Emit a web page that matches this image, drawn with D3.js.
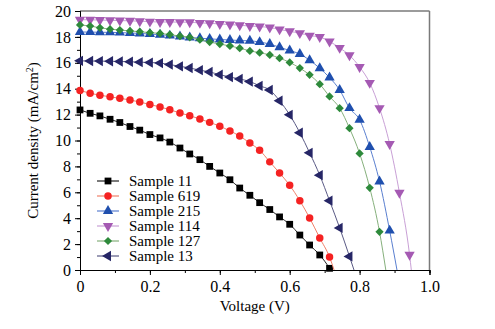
<!DOCTYPE html>
<html>
<head>
<meta charset="utf-8">
<script src="https://cdn.jsdelivr.net/npm/d3@7"></script>
<style>
  body { margin: 0; background: #fff; }
  text { font-family: "Liberation Serif", "Times New Roman", serif; fill: #000; }
</style>
</head>
<body>
<div id="chart"></div>
<script>
// Measured voltages (V), one marker every ~0.0286 V
const voltage = [0, 0.029, 0.057, 0.086, 0.114, 0.143, 0.171, 0.2, 0.229, 0.257,
  0.286, 0.314, 0.343, 0.371, 0.4, 0.429, 0.457, 0.486, 0.514, 0.543,
  0.571, 0.6, 0.629, 0.657, 0.686, 0.714, 0.743, 0.771, 0.8, 0.829,
  0.857, 0.886, 0.914, 0.943];

const sampleNames = ['Sample 11', 'Sample 619', 'Sample 215', 'Sample 114', 'Sample 127', 'Sample 13'];

// Current density (mA/cm2)
const current11 = [12.36, 12.1, 11.9, 11.64, 11.39, 11.08, 10.8, 10.46, 10.2, 9.88,
  9.42, 8.96, 8.52, 8.0, 7.49, 6.97, 6.33, 5.77, 5.2, 4.67,
  4.1, 3.53, 2.7, 1.93, 1.16, 0.13];
const current619 = [13.87, 13.65, 13.5, 13.37, 13.26, 13.13, 12.97, 12.78, 12.59, 12.38,
  12.12, 11.92, 11.66, 11.4, 11.1, 10.74, 10.34, 9.8, 9.25, 8.35,
  7.49, 6.54, 5.35, 4.02, 2.47, 1.0];
const current215 = [18.38, 18.37, 18.36, 18.35, 18.33, 18.3, 18.27, 18.22, 18.17, 18.1,
  18.03, 17.96, 17.9, 17.85, 17.8, 17.76, 17.72, 17.7, 17.6, 17.45,
  17.2, 16.95, 16.68, 16.2, 15.58, 14.86, 13.9, 12.5, 11.6, 9.5,
  6.84, 3.04];
const current114 = [19.33, 19.32, 19.3, 19.28, 19.26, 19.24, 19.21, 19.18, 19.15, 19.15,
  19.14, 19.13, 19.08, 19.05, 19.0, 18.95, 18.9, 18.84, 18.8, 18.72,
  18.58, 18.43, 18.29, 18.1, 17.99, 17.65, 17.15, 16.58, 15.68, 14.45,
  12.5, 9.73, 5.96, 1.17];
const current127 = [18.92, 18.84, 18.7, 18.6, 18.53, 18.46, 18.4, 18.33, 18.27, 18.18,
  18.06, 17.97, 17.78, 17.6, 17.45, 17.3, 17.13, 16.92, 16.78, 16.61,
  16.36, 16.03, 15.59, 15.07, 14.35, 13.4, 12.5, 10.95, 9.0, 6.35,
  2.95];
const current13 = [16.15, 16.14, 16.13, 16.12, 16.1, 16.08, 16.05, 16.02, 15.98, 15.86,
  15.73, 15.6, 15.43, 15.29, 15.08, 14.9, 14.75, 14.55, 14.22, 13.9,
  13.07, 11.98, 10.6, 9.05, 7.32, 5.35, 3.25, 1.05];

// Open-circuit voltage where each curve meets zero current
const vocValues = [0.717, 0.727, 0.907, 0.948, 0.875, 0.784];

const xTicks = [0, 0.2, 0.4, 0.6, 0.8, 1.0];
const yTicks = [0, 2, 4, 6, 8, 10, 12, 14, 16, 18, 20];

const config = {
  width: 495,
  height: 329,
  margin: {top: 11, right: 65.5, bottom: 59, left: 80}
};

const series = [
  {name: sampleNames[0], values: current11, voc: vocValues[0], marker: '#000000', line: '#222222', symbol: d3.symbolSquare, size: 46, rotate: 0},
  {name: sampleNames[1], values: current619, voc: vocValues[1], marker: '#f52222', line: '#f0806a', symbol: d3.symbolCircle, size: 44, rotate: 0},
  {name: sampleNames[2], values: current215, voc: vocValues[2], marker: '#1f4fae', line: '#5a7fd0', symbol: d3.symbolTriangle, size: 46, rotate: 0},
  {name: sampleNames[3], values: current114, voc: vocValues[3], marker: '#a55ab3', line: '#c9a0d6', symbol: d3.symbolTriangle, size: 46, rotate: 180},
  {name: sampleNames[4], values: current127, voc: vocValues[4], marker: '#2e8a3b', line: '#86b07c', symbol: d3.symbolSquare, size: 34, rotate: 45},
  {name: sampleNames[5], values: current13, voc: vocValues[5], marker: '#262666', line: '#5a5a85', symbol: d3.symbolTriangle, size: 46, rotate: -90}
];

const innerW = config.width - config.margin.left - config.margin.right;
const innerH = config.height - config.margin.top - config.margin.bottom;

const svg = d3.select('#chart').append('svg')
  .attr('width', config.width)
  .attr('height', config.height);

const chart = svg.append('g')
  .attr('transform', `translate(${config.margin.left},${config.margin.top})`);

const x = d3.scaleLinear().domain([0, 1]).range([0, innerW]);
const y = d3.scaleLinear().domain([0, 20]).range([innerH, 0]);

// Frame: top and right edges in grey
chart.append('line')
  .attr('x1', 0).attr('x2', innerW).attr('y1', 0).attr('y2', 0)
  .attr('stroke', '#7a7a7a').attr('stroke-width', 1.5);
chart.append('line')
  .attr('x1', innerW).attr('x2', innerW).attr('y1', 0).attr('y2', innerH)
  .attr('stroke', '#7a7a7a').attr('stroke-width', 1.5);

// Minor ticks
const xMinor = chart.append('g')
  .attr('transform', `translate(0,${innerH})`)
  .call(d3.axisBottom(x).ticks(10).tickSize(3).tickFormat(''));
const yMinor = chart.append('g')
  .call(d3.axisLeft(y).ticks(20).tickSize(3).tickFormat(''));

const xAxis = chart.append('g')
  .attr('transform', `translate(0,${innerH})`)
  .call(d3.axisBottom(x).tickValues(xTicks).tickSize(5).tickPadding(6)
    .tickFormat(d => d === 0 ? '0' : d3.format('.1f')(d)));
const yAxis = chart.append('g')
  .call(d3.axisLeft(y).tickValues(yTicks).tickSize(5).tickPadding(4));

[xMinor, yMinor, xAxis, yAxis].forEach(g => {
  g.select('.domain').attr('stroke', '#000');
  g.selectAll('.tick line').attr('stroke', '#000');
});
[xAxis, yAxis].forEach(g => {
  g.selectAll('.tick text').attr('font-size', 16);
});

// Axis titles
chart.append('text')
  .attr('x', innerW / 2)
  .attr('y', innerH + 41)
  .attr('text-anchor', 'middle')
  .attr('font-size', 15)
  .text('Voltage (V)');

chart.append('text')
  .attr('transform', `translate(${-42},${innerH / 2}) rotate(-90)`)
  .attr('text-anchor', 'middle')
  .attr('font-size', 15)
  .html('Current density (mA/cm<tspan dy="-5" font-size="10">2</tspan><tspan dy="5">)</tspan>');

const lineGen = d3.line()
  .x(d => x(d[0]))
  .y(d => y(d[1]))
  .curve(d3.curveMonotoneX);

const symbolPath = s => d3.symbol().type(s.symbol).size(s.size)();

series.forEach(s => {
  const pts = s.values.map((v, i) => [voltage[i], v]);
  const linePts = pts.concat([[s.voc, 0]]);

  chart.append('path')
    .datum(linePts)
    .attr('fill', 'none')
    .attr('stroke', s.line)
    .attr('stroke-width', 1)
    .attr('d', lineGen);

  chart.append('g').selectAll('path')
    .data(pts)
    .join('path')
    .attr('transform', d => `translate(${x(d[0])},${y(d[1])}) rotate(${s.rotate})`)
    .attr('d', symbolPath(s))
    .attr('fill', s.marker);
});

// Legend
const legend = chart.append('g')
  .attr('transform', 'translate(17,170)');

const legendRow = legend.selectAll('.legend-row')
  .data(series)
  .join('g')
  .attr('class', 'legend-row')
  .attr('transform', (d, i) => `translate(0,${i * 15})`);

legendRow.append('line')
  .attr('x1', 0).attr('x2', 22)
  .attr('stroke', d => d.line)
  .attr('stroke-width', 1.2);

legendRow.append('path')
  .attr('transform', d => `translate(11,0) rotate(${d.rotate})`)
  .attr('d', d => symbolPath(d))
  .attr('fill', d => d.marker);

legendRow.append('text')
  .attr('x', 32)
  .attr('dy', '0.33em')
  .attr('font-size', 15)
  .text(d => d.name);
</script>
</body>
</html>
